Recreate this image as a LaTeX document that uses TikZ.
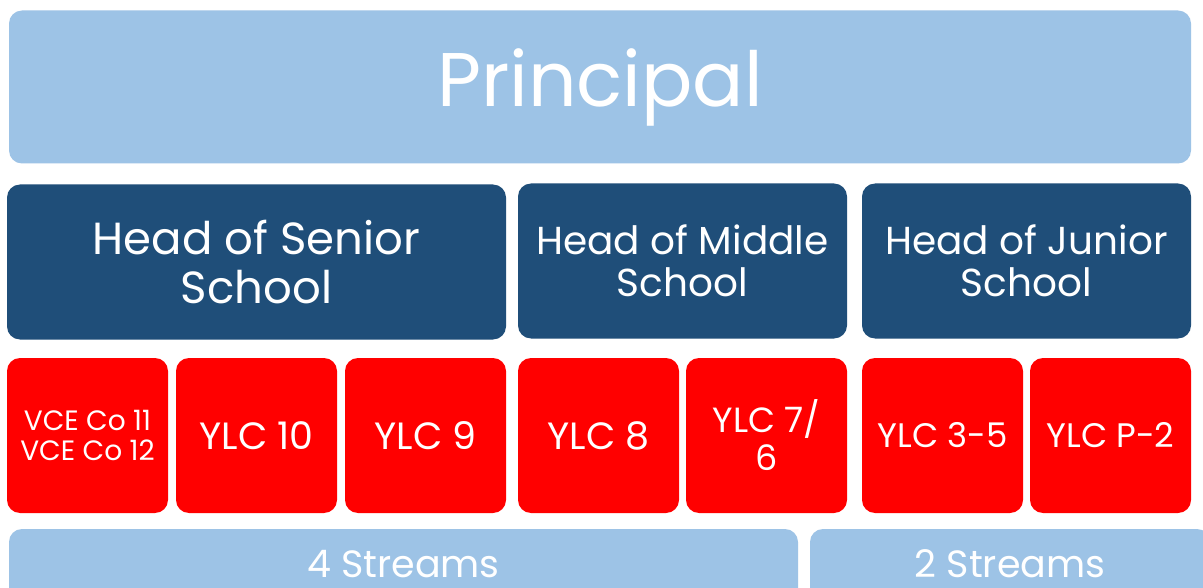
\documentclass[tikz,border=0pt]{standalone}
\usepackage{fontspec}
\setmainfont{Poppins}
\definecolor{lightblue}{HTML}{9DC3E6}
\definecolor{darkblue}{HTML}{1F4E79}
\definecolor{boxred}{HTML}{FF0000}
\begin{document}
\begin{tikzpicture}[x=1pt,y=-1pt,
  base/.style={rectangle, rounded corners=13pt, inner sep=0pt, text=white, align=center},
  lbox/.style={base, fill=lightblue},
  dbox/.style={base, fill=darkblue, minimum height=155pt},
  rbox/.style={base, fill=boxred, minimum width=161pt, minimum height=155pt, font=\fontsize{38}{42}\selectfont},
  stext/.style={font=\fontsize{38}{42}\selectfont, text=white, anchor=base, inner sep=0pt}
]
\useasboundingbox (0,0) rectangle (1203,588);
\clip (0,0) rectangle (1203,588);
\fill[white] (0,0) rectangle (1203,588);
% Principal
\node[lbox, minimum width=1182pt, minimum height=153pt, font=\fontsize{76}{80}\selectfont] (principal) at (600,87) {Principal};
% Heads
\node[dbox, minimum width=499pt, font=\fontsize{45}{49}\selectfont] (senior) at (256.5,262) {Head of Senior\\School};
\node[dbox, minimum width=329pt, font=\fontsize{39}{42}\selectfont] (middle) at (682.5,261) {Head of Middle\\School};
\node[dbox, minimum width=329pt, font=\fontsize{39}{42}\selectfont] (junior) at (1026.5,261) {Head of Junior\\School};
% Year level coordinators
\node[rbox, font=\fontsize{28}{30}\selectfont] (vce) at (87.5,435.5) {VCE Co 11\\VCE Co 12};
\node[rbox] (y10) at (256.5,435.5) {YLC 10};
\node[rbox] (y9) at (425.5,435.5) {YLC 9};
\node[rbox] (y8) at (598.5,435.5) {YLC 8};
\node[rbox, font=\fontsize{35}{38}\selectfont] (y76) at (766.5,435.5) {YLC 7/\\6};
\node[rbox, font=\fontsize{34}{38}\selectfont] (y35) at (942.5,435.5) {YLC 3-5};
\node[rbox, font=\fontsize{34}{38}\selectfont] (yp2) at (1110.5,435.5) {YLC P-2};
% Streams
\node[lbox, minimum width=789pt, minimum height=90pt] (s4) at (403.5,574) {};
\node[stext] (s4t) at (403.5,577) {4 Streams};
\node[lbox, minimum width=400pt, minimum height=90pt] (s2) at (1010,574) {};
\node[stext] (s2t) at (1010,577) {2 Streams};
\end{tikzpicture}
\end{document}
